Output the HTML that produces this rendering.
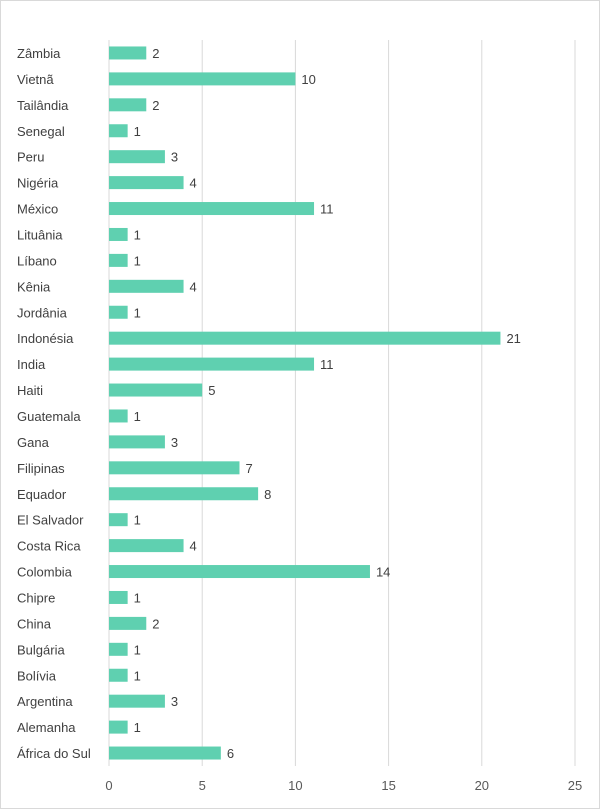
<!DOCTYPE html>
<html><head><meta charset="utf-8"><style>
body{margin:0;background:#fff;}
svg{display:block;font-family:"Liberation Sans",sans-serif;}
</style></head><body>
<svg id="chart" width="600" height="809">
<rect x="0.5" y="0.5" width="599" height="808" fill="#fff" stroke="#d9d9d9"/>
<g id="grid"></g><g id="bars"></g><g id="labels"></g><g id="xticks"></g>
</svg>
<script>
const categories=["Zâmbia","Vietnã","Tailândia","Senegal","Peru","Nigéria","México","Lituânia","Líbano","Kênia","Jordânia","Indonésia","India","Haiti","Guatemala","Gana","Filipinas","Equador","El Salvador","Costa Rica","Colombia","Chipre","China","Bulgária","Bolívia","Argentina","Alemanha","África do Sul"];
const values=[2,10,2,1,3,4,11,1,1,4,1,21,11,5,1,3,7,8,1,4,14,1,2,1,1,3,1,6];
const tickValues=[0,5,10,15,20,25];
const NS="http://www.w3.org/2000/svg";
const x0=109,x1=575,xmax=25,plotTop=40,plotBottom=766;
const band=(plotBottom-plotTop)/categories.length;
const xs=v=>x0+(x1-x0)*v/xmax;
const ys=i=>plotTop+(i+0.5)*band;
function mk(t,a,p){const e=document.createElementNS(NS,t);for(const k in a)e.setAttribute(k,a[k]);document.getElementById(p).appendChild(e);return e;}
tickValues.forEach(t=>{
  const l=mk("line",{x1:xs(t),x2:xs(t),y1:plotTop,y2:plotBottom,stroke:"#d9d9d9","stroke-width":1},"grid");
  
  
  const tx=mk("text",{x:xs(t),y:790,"text-anchor":"middle","font-size":13,fill:"#595959"},"xticks");
  tx.textContent=t;
  
  
});
categories.forEach((c,i)=>{
  const y=ys(i);
  const b=mk("rect",{x:xs(0),y:y-6.5,width:xs(values[i])-xs(0),height:13,fill:"#5fd0b0"},"bars");
  
  
  const cl=mk("text",{x:17,y:y+5,"font-size":13,fill:"#404040"},"labels");
  cl.textContent=c;
  
  
  const vl=mk("text",{x:xs(values[i])+6,y:y+5,"font-size":13,fill:"#404040"},"labels");
  vl.textContent=values[i];
  
  
});
</script>
</body></html>
